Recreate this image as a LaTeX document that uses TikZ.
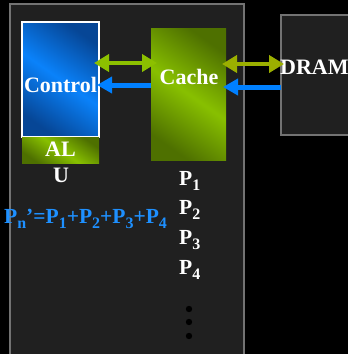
\documentclass[tikz,border=0pt]{standalone}
\usepackage{fontspec}
\setmainfont{Liberation Serif}
\usetikzlibrary{arrows.meta}
\definecolor{chip_gray}{RGB}{32,32,32}
\definecolor{edge_gray}{RGB}{115,115,115}
\definecolor{node_blue}{RGB}{10,130,250}
\definecolor{dark_blue}{RGB}{6,70,150}
\definecolor{node_green}{RGB}{136,192,0}
\definecolor{dark_green}{RGB}{78,112,0}
\definecolor{edge_green}{RGB}{140,192,0}
\definecolor{edge_olive}{RGB}{155,175,0}
\definecolor{arrow_blue}{RGB}{0,128,255}
\definecolor{text_blue}{RGB}{30,144,255}
\newcommand\psub[1]{\raisebox{-5pt}{\fontsize{16}{16}\selectfont#1}}

\begin{document}
\begin{tikzpicture}[x=1pt,y=-1pt,>=Triangle]
    \tikzstyle{label}=[text=white,font=\fontsize{22}{24}\selectfont\bfseries,inner sep=0pt]
    \tikzstyle{plabel}=[style=label,font=\fontsize{21.5}{24}\selectfont\bfseries,anchor=west]
    \tikzstyle{unit}=[rectangle,inner sep=0pt,outer sep=0pt,anchor=north west]
    \tikzstyle{box}=[style=unit,draw=edge_gray,line width=1.5pt,fill=chip_gray]
    \tikzstyle{bluebox}=[style=unit,draw=white,line width=1.2pt,top color=dark_blue,bottom color=dark_blue,middle color=node_blue,shading angle=-35]
    \tikzstyle{greenbox}=[style=unit,top color=dark_green,bottom color=dark_green,middle color=node_green,shading angle=-35]
    \tikzstyle{garrow}=[<->,line width=4pt,>={Triangle[width=17pt,length=15pt]}]
    \tikzstyle{barrow}=[->,line width=5pt,arrow_blue,>={Triangle[width=16pt,length=15pt]}]

    \clip (0,0) rectangle (348,354);
    \fill[black] (0,0) rectangle (348,354);

    \node[box,minimum width=234pt,minimum height=370pt] (chip) at (10,4)   {};
    \node[box,minimum width=80pt,minimum height=120pt]  (dram) at (281,15) {};
    \node[bluebox,minimum width=77pt,minimum height=115pt]  (ctrl)  at (22,22)  {};
    \node[greenbox,minimum width=77pt,minimum height=26pt]  (alu)   at (22,137) {};
    \node[greenbox,minimum width=75pt,minimum height=132pt] (cache) at (151,28) {};

    \node[label]           (tctrl)  at (60.5,85) {Control};
    \node[label]           (tcache) at (189,77)  {Cache};
    \node[label,anchor=west] (tdram) at (280,67) {DRAM};
    \node[label]           (tal)    at (60.5,149) {AL};
    \node[label]           (tu)     at (61,175)   {U};

    \node[plabel] (p1) at (179,181) {P\psub{1}};
    \node[plabel] (p2) at (179,210) {P\psub{2}};
    \node[plabel] (p3) at (179,240) {P\psub{3}};
    \node[plabel] (p4) at (179,270) {P\psub{4}};
    \foreach \y [count=\i] in {309,322,336}
      \fill[black] (189,\y) circle (3.2pt) coordinate (dot\i);

    \node[plabel,text=text_blue] (sum) at (4,219)
      {P\psub{n}’=P\psub{1}+P\psub{2}+P\psub{3}+P\psub{4}};

    \draw[garrow,edge_green,shorten <=-5pt,shorten >=-6pt] (ctrl.east |- 0,63) -- (cache.west |- 0,63);
    \draw[barrow,shorten >=-2pt] (cache.west |- 0,85) -- (ctrl.east |- 0,85);
    \draw[garrow,edge_olive,shorten <=-4pt,shorten >=-3pt] (cache.east |- 0,64) -- (dram.west |- 0,64);
    \draw[barrow,shorten >=-3pt] (dram.west |- 0,87) -- (cache.east |- 0,87);
\end{tikzpicture}
\end{document}
